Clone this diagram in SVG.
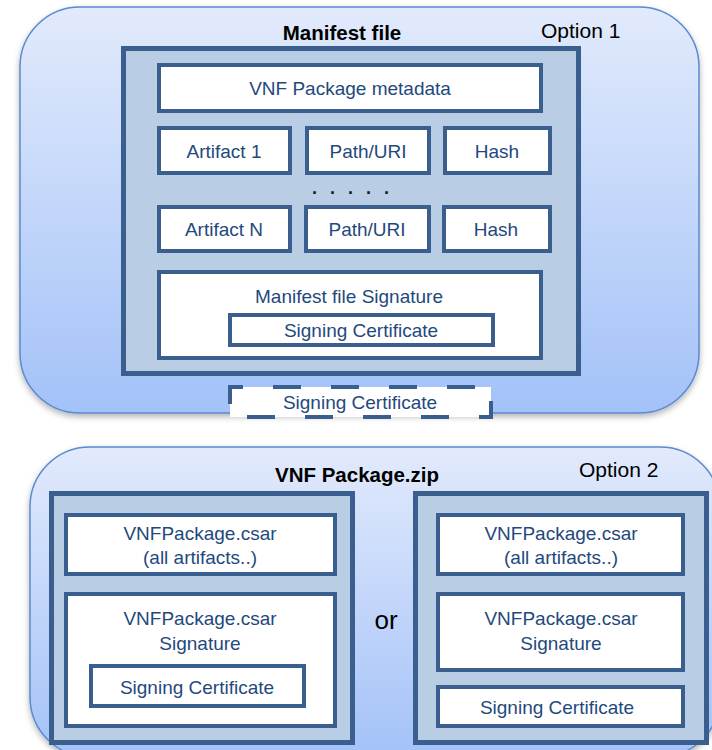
<svg xmlns="http://www.w3.org/2000/svg" width="712" height="750" viewBox="0 0 712 750">
<defs>
  <linearGradient id="bg" x1="0" y1="0" x2="0" y2="1">
    <stop offset="0" stop-color="#e2eafc"/>
    <stop offset="1" stop-color="#a3c2f8"/>
  </linearGradient>
  <filter id="sh" x="-5%" y="-5%" width="110%" height="115%">
    <feDropShadow dx="0" dy="3" stdDeviation="3" flood-color="#000" flood-opacity="0.3"/>
  </filter>
  <style>
    .outer{fill:url(#bg);stroke:#5a8ad0;stroke-width:1.5;filter:url(#sh)}
    .cont{fill:#b9cde5;stroke:#3a5f8f;stroke-width:5}
    .box{fill:#ffffff;stroke:#3a5f8f;stroke-width:4}
    .dash{fill:#ffffff;stroke:#3a5f8f;stroke-width:4;stroke-dasharray:28 30;stroke-dashoffset:15}
    text{font-family:"Liberation Sans",Arial,sans-serif;text-anchor:middle}
    .t{font-size:19px;fill:#1f497d}
    .title{font-size:20.5px;font-weight:bold;fill:#000}
    .opt{font-size:21px;fill:#000;text-anchor:start}
  </style>
</defs>

<g id="option1">
  <rect class="outer" x="20" y="7" width="679" height="406" rx="60"/>
  <text class="title" x="342" y="40">Manifest file</text>
  <text class="opt" x="541" y="38">Option 1</text>
  <g id="manifest-container">
    <rect class="cont" x="123.5" y="48.5" width="455" height="325"/>
  </g>
  <g id="metadata">
    <rect class="box" x="159" y="65" width="382" height="46"/>
    <text class="t" x="350" y="95">VNF Package metadata</text>
  </g>
  <g id="artifact1">
    <rect class="box" x="159" y="128" width="131" height="45"/>
    <text class="t" x="224" y="158">Artifact 1</text>
  </g>
  <g id="path1">
    <rect class="box" x="307" y="128" width="122" height="45"/>
    <text class="t" x="368" y="158">Path/URI</text>
  </g>
  <g id="hash1">
    <rect class="box" x="445" y="128" width="105" height="45"/>
    <text class="t" x="497" y="158">Hash</text>
  </g>
  <text x="357" y="194" style="font-size:18px;fill:#1a1a1a;letter-spacing:13px;font-weight:bold">.....</text>
  <g id="artifactN">
    <rect class="box" x="159" y="207" width="131" height="44"/>
    <text class="t" x="224" y="236">Artifact N</text>
  </g>
  <g id="pathN">
    <rect class="box" x="306" y="207" width="123" height="44"/>
    <text class="t" x="367" y="236">Path/URI</text>
  </g>
  <g id="hashN">
    <rect class="box" x="444" y="207" width="106" height="44"/>
    <text class="t" x="496" y="236">Hash</text>
  </g>
  <g id="manifest-signature">
    <rect class="box" x="159" y="272" width="382" height="86"/>
    <text class="t" x="349" y="303">Manifest file Signature</text>
  </g>
  <g id="signing-cert-1">
    <rect class="box" x="230" y="315" width="263" height="30"/>
    <text class="t" x="361" y="337">Signing Certificate</text>
  </g>
  <g id="signing-cert-dashed">
    <rect class="dash" x="230" y="387" width="261" height="30"/>
    <text class="t" x="360" y="409">Signing Certificate</text>
  </g>
</g>

<g id="option2">
  <rect class="outer" x="30" y="447" width="690" height="310" rx="60"/>
  <text class="title" x="357" y="482">VNF Package.zip</text>
  <text class="opt" x="579" y="477">Option 2</text>
  <g id="left-container">
    <rect class="cont" x="51.5" y="493.5" width="301" height="249"/>
  </g>
  <g id="left-csar">
    <rect class="box" x="66" y="515" width="269" height="59"/>
    <text class="t" x="200" y="540">VNFPackage.csar</text>
    <text class="t" x="200" y="564">(all artifacts..)</text>
  </g>
  <g id="left-signature">
    <rect class="box" x="66" y="594" width="269" height="132"/>
    <text class="t" x="200" y="625">VNFPackage.csar</text>
    <text class="t" x="200" y="650">Signature</text>
  </g>
  <g id="left-cert">
    <rect class="box" x="91" y="666" width="213" height="40"/>
    <text class="t" x="197" y="694">Signing Certificate</text>
  </g>
  <text x="386" y="629" style="font-size:26px;fill:#000">or</text>
  <g id="right-container">
    <rect class="cont" x="415.5" y="493.5" width="291" height="249"/>
  </g>
  <g id="right-csar">
    <rect class="box" x="438" y="515" width="245" height="59"/>
    <text class="t" x="561" y="540">VNFPackage.csar</text>
    <text class="t" x="561" y="564">(all artifacts..)</text>
  </g>
  <g id="right-signature">
    <rect class="box" x="438" y="594" width="245" height="76"/>
    <text class="t" x="561" y="625">VNFPackage.csar</text>
    <text class="t" x="561" y="650">Signature</text>
  </g>
  <g id="right-cert">
    <rect class="box" x="438" y="687" width="245" height="39"/>
    <text class="t" x="557" y="714">Signing Certificate</text>
  </g>
</g>

<g id="connectors"></g>
</svg>
